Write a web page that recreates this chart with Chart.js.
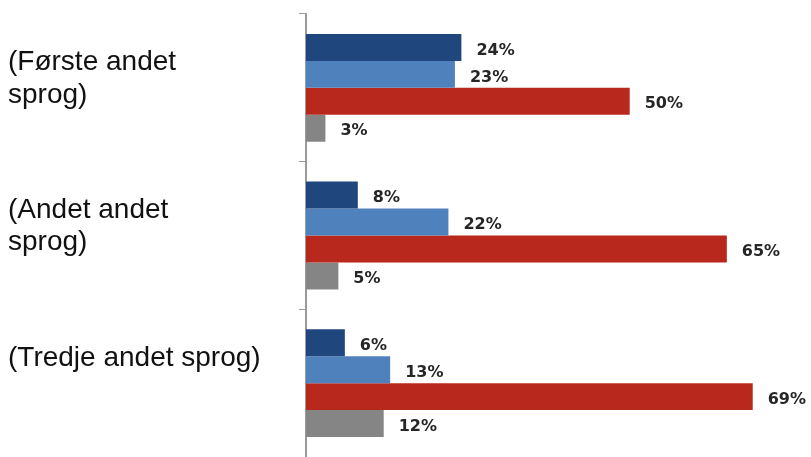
<!DOCTYPE html>
<html>
<head>
<meta charset="utf-8">
<script src="https://cdn.jsdelivr.net/npm/chart.js@4.4.1/dist/chart.umd.min.js"></script>
<style>
  html, body { margin: 0; padding: 0; background: #fff; }
  #wrap { width: 811px; height: 457px; position: relative; }
</style>
</head>
<body>
<div id="wrap"><canvas id="chart"></canvas></div>
<script>
// Kategorier (to linjer pr. etiket, tom linje holder tredje etiket på linje med de andre)
const categories = [
    ['(Første andet', 'sprog)'],
    ['(Andet andet', 'sprog)'],
    ['(Tredje andet sprog)', '']
];

// Serier (procent)
const seriesNames = ['Serie 1', 'Serie 2', 'Serie 3', 'Serie 4'];
const series1 = [24, 8, 6];
const series2 = [23, 22, 13];
const series3 = [50, 65, 69];
const series4 = [3, 5, 12];
const seriesColors = ['#1f477e', '#4f81bd', '#b8281d', '#858585'];

// Tegner procent-etiketter til højre for hver bjælke
const valueLabels = {
    id: 'valueLabels',
    afterDatasetsDraw(chart) {
        const ctx = chart.ctx;
        ctx.save();
        ctx.font = 'bold 16px "DejaVu Sans", sans-serif';
        ctx.fillStyle = '#262626';
        ctx.textAlign = 'left';
        ctx.textBaseline = 'middle';
        chart.data.datasets.forEach((ds, i) => {
            const meta = chart.getDatasetMeta(i);
            meta.data.forEach((bar, j) => {
                ctx.fillText(ds.data[j] + '%', bar.x + 15, bar.y + 3);
            });
        });
        ctx.restore();
    }
};

const allSeries = [series1, series2, series3, series4];

new Chart(document.getElementById('chart').getContext('2d'), {
    type: 'bar',
    data: {
        labels: categories,
        datasets: allSeries.map((values, i) => ({
            label: seriesNames[i],
            data: values,
            backgroundColor: seriesColors[i],
            barPercentage: 1,
            categoryPercentage: 0.73
        }))
    },
    options: {
        indexAxis: 'y',
        responsive: true,
        maintainAspectRatio: false,
        animation: false,
        layout: { padding: { left: 8, top: 14, right: 0, bottom: 0 } },
        plugins: {
            legend: { display: false },
            tooltip: { enabled: false }
        },
        scales: {
            x: {
                display: false,
                min: 0,
                max: 78
            },
            y: {
                afterFit(scale) {
                    scale.width = 298;
                    scale.paddingTop = 0;
                    scale.paddingBottom = 0;
                },
                border: { display: true, color: '#9a9a9a', width: 2 },
                grid: {
                    drawOnChartArea: false,
                    drawTicks: true,
                    tickLength: 7,
                    color: '#9a9a9a',
                    lineWidth: 1
                },
                ticks: {
                    crossAlign: 'far',
                    labelOffset: -9,
                    color: '#111',
                    font: { family: '"Liberation Sans", Arial, sans-serif', size: 28, lineHeight: 1.15 }
                }
            }
        }
    },
    plugins: [valueLabels]
});
</script>
</body>
</html>
